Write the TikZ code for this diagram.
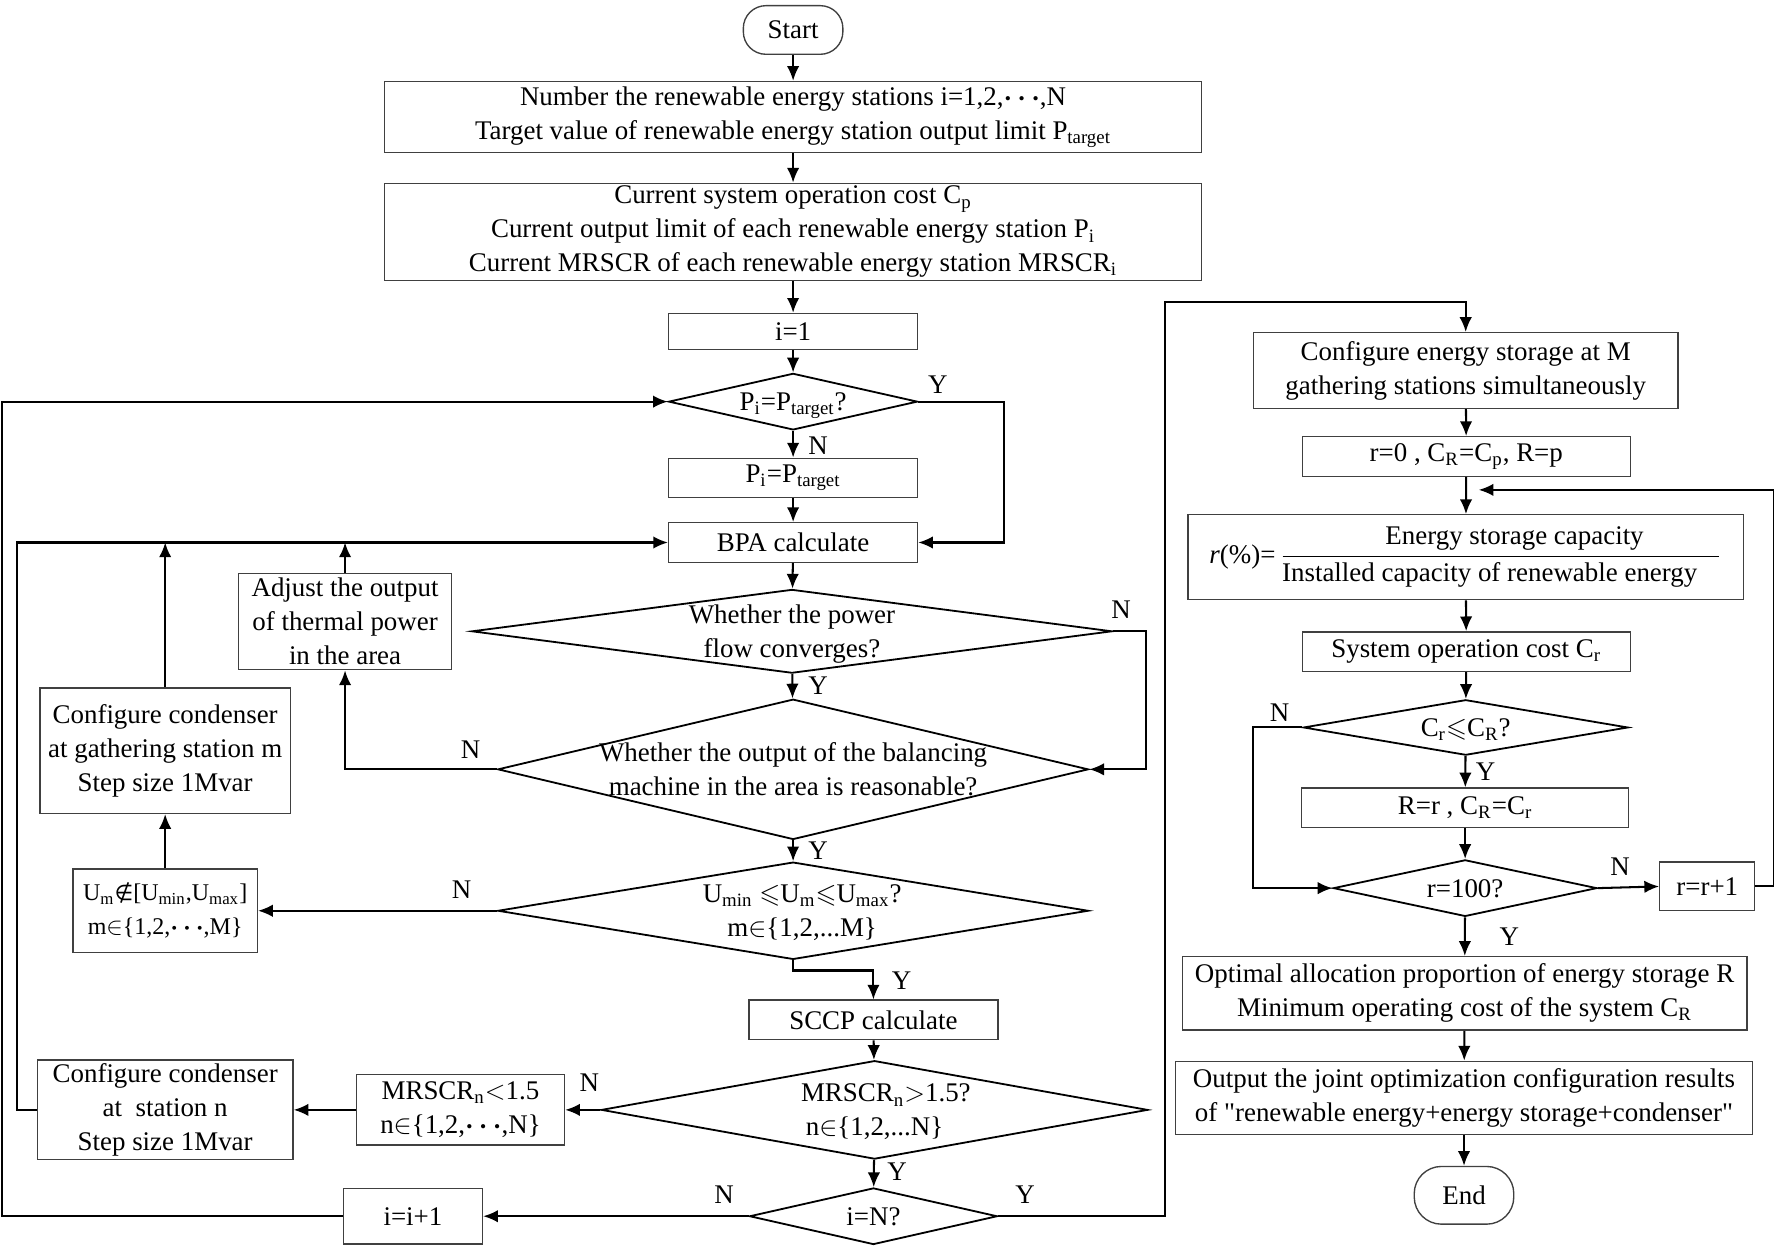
\documentclass[tikz,border=0pt]{standalone}
\usepackage{amsmath,amssymb}
\usepackage{fontspec}
\setmainfont{Liberation Serif}
\newfontfamily\qfont{Liberation Serif}[Ligatures=TeXOff]
\newfontfamily\symf{DejaVu Sans}
\usetikzlibrary{arrows.meta,shapes.geometric}
\newcommand{\dtxt}[1]{\smash{\makebox[0pt]{\raisebox{-4pt}{\begin{tabular}{@{}c@{}}#1\end{tabular}}}}}
\newcommand{\sub}[1]{\textsubscript{#1}}
\newcommand{\dts}{{\boldmath$\cdot\mkern-1mu\cdot\mkern-1mu\cdot$}}
\tikzset{
  box/.style={draw=black!75,line width=.6pt,inner sep=1pt,align=center},
  term/.style={box,rounded corners=10pt},
  dec/.style={draw,line width=.8pt,shape=diamond,inner sep=0pt},
  lbl/.style={inner sep=0pt},
  arr/.style={-{Latex[length=6.5pt,width=5.5pt]},line width=.9pt},
}
\begin{document}
\begin{tikzpicture}[x=.5pt,y=-.5pt,font=\fontsize{11.9}{15}\selectfont]
  \useasboundingbox (0,0) rectangle (1568,1101);
  % main column
  \node[term,minimum width=44pt,minimum height=21.5pt] (start) at (701,26.5) {Start};
  \node[box,minimum width=361pt,minimum height=31.5pt] (b1) at (701,103.5)
    {Number the renewable energy stations i=1,2,\dts,N\\
     Target value of renewable energy station output limit P\sub{target}};
  \node[box,minimum width=361pt,minimum height=43pt] (b2) at (701,205)
    {Current system operation cost C\sub{p}\\
     Current output limit of each renewable energy station P\sub{i}\\
     Current MRSCR of each renewable energy station MRSCR\sub{i}};
  \node[box,minimum width=110pt,minimum height=16pt] (i1) at (701,293) {i=1};
  \node[dec,minimum width=110pt,minimum height=25pt] (dP) at (701,355)
    {\dtxt{P\sub{i}=P\sub{target}?}};
  \node[box,minimum width=110pt,minimum height=17.5pt] (pset) at (701,422.5)
    {P\sub{i}=P\sub{target}};
  \node[box,minimum width=110pt,minimum height=17.5pt] (bpa) at (701,479.5) {BPA calculate};
  \node[dec,minimum width=283pt,minimum height=37pt] (dFlow) at (700,558)
    {\dtxt{Whether the power\\flow converges?}};
  \node[dec,minimum width=261pt,minimum height=62pt] (dBal) at (701,680)
    {\dtxt{Whether the output of the balancing\\machine in the area is reasonable?}};
  \node[dec,minimum width=261pt,minimum height=43pt] (dU) at (701,805)
    {\dtxt{\hspace{8pt}U\sub{min} $\leqslant$U\sub{m}$\leqslant$U\sub{max}?\\\hspace{8pt}m$\in$\{1,2,...M\}}};
  \node[box,minimum width=110pt,minimum height=17.5pt] (sccp) at (772,901.5) {SCCP calculate};
  \node[dec,minimum width=241.5pt,minimum height=43.5pt] (dM) at (773,981)
    {\dtxt{\hspace{10pt}MRSCR\sub{n}$>$1.5?\\n$\in$\{1,2,...N\}}};
  \node[dec,minimum width=109.5pt,minimum height=25pt] (dN) at (772,1075) {\dtxt{i=N?}};
  % left side
  \node[box,minimum width=94pt,minimum height=42.5pt] (adj) at (305,549.5)
    {Adjust the output\\of thermal power\\in the area};
  \node[box,minimum width=110.5pt,minimum height=55.5pt] (condM) at (146,663.5)
    {Configure condenser\\at gathering station m\\Step size 1Mvar};
  \node[box,minimum width=81.5pt,minimum height=37pt,inner sep=0pt,font=\fontsize{10.6}{15}\selectfont] (um) at (146,805)
    {U\sub{m}{\symf\fontsize{9.5}{15}\selectfont ∉}[U\sub{min},U\sub{max}]\\m$\in$\{1,2,\dts,M\}};
  \node[box,minimum width=92pt,minimum height=31pt] (mrs) at (407,981)
    {MRSCR\sub{n}$<$1.5\\n$\in$\{1,2,\dts,N\}};
  \node[box,minimum width=113pt,minimum height=44pt] (condN) at (146,981)
    {Configure condenser\\at\ \ station n\\Step size 1Mvar};
  \node[box,minimum width=61.5pt,minimum height=24.5pt] (inc) at (365,1075) {i=i+1};
  % right column
  \node[box,minimum width=187.5pt,minimum height=33.5pt] (es) at (1295.5,327.5)
    {Configure energy storage at M\\gathering stations simultaneously};
  \node[box,minimum width=145pt,minimum height=17.5pt] (r0) at (1296,403.5)
    {r=0 , C\sub{R}=C\sub{p}, R=p};
  \node[box,minimum width=245.5pt,minimum height=37.5pt] (rp) at (1295.5,492.5)
    {\textit{r}(\%)=\,$\dfrac{\makebox[193pt]{\hspace{12pt}Energy storage capacity}}{\makebox[193pt]{Installed capacity of renewable energy\hspace{10pt}}}$};
  \node[box,minimum width=145pt,minimum height=17.5pt] (cost) at (1296,576)
    {System operation cost C\sub{r}};
  \node[dec,minimum width=143.5pt,minimum height=24.5pt] (dC) at (1295.5,643)
    {\dtxt{C\sub{r}$\leqslant$C\sub{R}?}};
  \node[box,minimum width=144.5pt,minimum height=17.5pt] (rR) at (1295,714)
    {R=r , C\sub{R}=C\sub{r}};
  \node[dec,minimum width=116.5pt,minimum height=25pt] (dR) at (1295,785) {\dtxt{r=100?}};
  \node[box,minimum width=42pt,minimum height=21.5pt] (rinc) at (1509,783.5) {r=r+1};
  \node[box,minimum width=249.5pt,minimum height=32.5pt] (opt) at (1294.5,878)
    {Optimal allocation proportion of energy storage R\\
     Minimum operating cost of the system C\sub{R}};
  \node[box,minimum width=255pt,minimum height=32.5pt] (out) at (1294,970.5)
    {Output the joint optimization configuration results\\
     of {\qfont"}renewable energy+energy storage+condenser{\qfont"}};
  \node[term,minimum width=44pt,minimum height=25.5pt,rounded corners=12pt] (endn) at (1294,1056.5) {End};
  \coordinate (yTurn) at (1030,267);
  \coordinate (rBack) at (1307,433);
  % branch labels
  \node[lbl] (yP) at (829,340) {Y};
  \node[lbl] (nP) at (723,394) {N};
  \node[lbl] (yFlow) at (723,606) {Y};
  \node[lbl] (nFlow) at (991,539) {N};
  \node[lbl] (nBal) at (416,663) {N};
  \node[lbl] (yBal) at (723,752) {Y};
  \node[lbl] (nU) at (408,786) {N};
  \node[lbl] (yU) at (797,867) {Y};
  \node[lbl] (nM) at (521,957) {N};
  \node[lbl] (yM) at (793,1036) {Y};
  \node[lbl] (nN) at (640,1056) {N};
  \node[lbl] (yN) at (906,1056) {Y};
  \node[lbl] (nC) at (1131,630) {N};
  \node[lbl] (yC) at (1313,682) {Y};
  \node[lbl] (nR) at (1432,766) {N};
  \node[lbl] (yR) at (1334,828) {Y};
  % connectors
  \draw[arr] (start) -- (b1);
  \draw[arr] (b1) -- (b2);
  \draw[arr] (b2) -- (i1);
  \draw[arr] (i1) -- (dP);
  \draw[arr] (dP) -- (pset);
  \draw[arr] (pset) -- (bpa);
  \draw[arr] (bpa) -- (dFlow);
  \draw[arr] (dFlow) -- (dBal);
  \draw[arr] (dBal) -- (dU);
  \draw[arr] (dU.south) -- ++(0,9) -| (sccp.north);
  \draw[arr] (sccp) -- (dM);
  \draw[arr] (dM) -- (dN);
  \draw[arr] (dP.east) -- ++(76,0) |- (bpa.east);
  \draw[arr] (dFlow.east) -- ++(29,0) |- (dBal.east);
  \draw[arr] (dBal.west) -| (adj.south);
  \draw[arr] (adj.north) -- (adj.north |- bpa.west);
  \draw[arr] (condM.north) -- (condM.north |- bpa.west);
  \draw[arr] (condN.west) -- ++(-17,0) |- (bpa.west);
  \draw[arr] (dU.west) -- (um.east);
  \draw[arr] (um) -- (condM);
  \draw[arr] (dM.west) -- (mrs.east);
  \draw[arr] (mrs) -- (condN);
  \draw[arr] (dN.west) -- (inc.east);
  \draw[arr] (inc.west) -- ++(-301,0) |- (dP.west);
  \draw[arr] (dN.east) -| (yTurn) -| (es.north);
  \draw[arr] (es) -- (r0);
  \draw[arr] (r0) -- (rp);
  \draw[arr] (rp) -- (cost);
  \draw[arr] (cost) -- (dC);
  \draw[arr] (dC) -- (rR);
  \draw[arr] (rR) -- (dR);
  \draw[arr] (dC.west) -- ++(-44,0) |- (dR.west);
  \draw[arr] (dR.east) -- (rinc.west);
  \draw[arr] (rinc.east) -- ++(16,0) |- (rBack);
  \draw[arr] (dR) -- (opt);
  \draw[arr] (opt) -- (out);
  \draw[arr] (out) -- (endn);
\end{tikzpicture}
\end{document}
